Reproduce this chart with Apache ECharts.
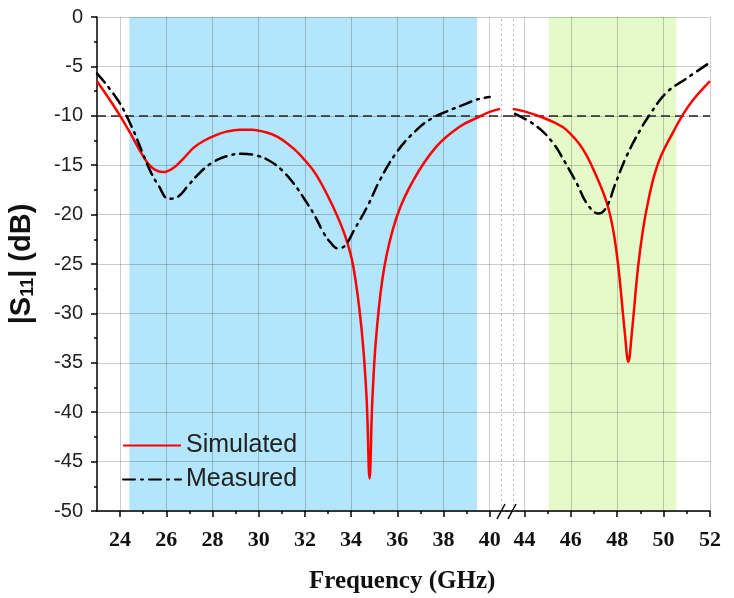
<!DOCTYPE html>
<html>
<head>
<meta charset="utf-8">
<script src="https://cdn.jsdelivr.net/npm/echarts@6.0.0/dist/echarts.min.js"></script>
<style>
html, body { margin: 0; padding: 0; background: #fff; }
#chart { width: 734px; height: 598px; }
</style>
</head>
<body>
<div id="chart"></div>
<script>
// simulated |S11|, lower band (GHz / dB)
var simLowFreq = [23, 23.5, 24, 24.5, 24.9, 25.2, 25.5, 25.85, 26.0, 26.35, 26.75, 27.2, 27.65, 28.1, 28.6, 29.2, 29.7, 30.2, 30.8, 31.5, 32.0, 32.5, 33.2, 33.75, 34.1, 34.45, 34.67, 34.8, 34.92, 35.1, 35.44, 35.98, 36.7, 37.7, 38.7, 39.5, 40.0, 40.45];
var simLowDb = [-6.5, -8.2, -10.0, -12.0, -13.7, -14.8, -15.45, -15.7, -15.65, -15.2, -14.3, -13.2, -12.5, -12.0, -11.6, -11.4, -11.4, -11.6, -12.1, -13.3, -14.5, -16.0, -19.1, -22.2, -25.3, -31.5, -38.5, -46.7, -38.8, -32, -25.3, -20.2, -16.5, -13.1, -11.1, -10.15, -9.6, -9.3];
// simulated |S11|, upper band
var simHighFreq = [43.5, 44, 44.7, 45.3, 45.8, 46.5, 47.1, 47.55, 47.83, 48.05, 48.33, 48.48, 48.63, 48.9, 49.12, 49.34, 49.6, 49.9, 50.4, 50.8, 51.27, 52];
var simHighDb = [-9.3, -9.55, -10.1, -10.7, -11.4, -13.3, -16.1, -18.8, -21.6, -25.3, -32, -34.9, -32, -25.3, -21.4, -18.6, -16.0, -14.0, -11.7, -10.0, -8.4, -6.5];
// measured |S11|, lower band
var measLowFreq = [23, 23.9, 24.5, 25, 25.35, 25.65, 26.1, 26.5, 26.9, 27.35, 27.95, 28.6, 29.25, 29.95, 30.5, 31.0, 31.5, 32.0, 32.4, 32.8, 33.1, 33.4, 33.6, 33.85, 34.1, 34.7, 35.25, 36, 36.85, 37.5, 38.15, 38.85, 39.45, 40];
var measLowDb = [-5.7, -8.4, -11.1, -13.9, -15.8, -17.0, -18.4, -18.2, -17.2, -16.0, -14.8, -14.1, -13.85, -14.05, -14.6, -15.5, -16.8, -18.5, -20.0, -21.8, -22.8, -23.4, -23.35, -22.8, -21.7, -19.2, -16.5, -13.6, -11.4, -10.25, -9.55, -8.9, -8.35, -8.1];
// measured |S11|, upper band
var measHighFreq = [43.6, 44.55, 45.25, 45.7, 46.25, 46.7, 47.2, 47.55, 47.9, 48.4, 49, 49.4, 50.1, 51, 52];
var measHighDb = [-9.8, -11.1, -12.8, -14.5, -16.8, -18.9, -19.9, -19.2, -17.0, -14.1, -11.4, -9.9, -7.7, -6.2, -4.6];

var lowTicks = [24, 26, 28, 30, 32, 34, 36, 38, 40];
var lowMinorTicks = [25, 27, 29, 31, 33, 35, 37, 39];
var highTicks = [44, 46, 48, 50, 52];
var highMinorTicks = [45, 47, 49, 51];
var lowBand = [24.4, 39.45];
var highBand = [45.05, 50.55];
var refLevel = -10;

function pairs(xs, ys) {
    var out = [];
    for (var i = 0; i < xs.length; i++) {
        out.push([xs[i], ys[i]]);
    }
    return out;
}

var myChart = echarts.init(document.getElementById('chart'));

var gridColor = 'rgba(0,0,0,0.2)';
var serifBold = {
    fontFamily: 'Liberation Serif',
    fontWeight: 'bold',
    fontSize: 22,
    color: '#111'
};

function mainX(grid, min, max, ticks) {
    return {
        type: 'value', gridIndex: grid, min: min, max: max, z: 2, position: 'bottom',
        axisLine: { show: true, onZero: false, lineStyle: { color: '#000', width: 1.5 } },
        axisTick: { show: true, length: 6, customValues: ticks, lineStyle: { color: '#000', width: 1.5 } },
        axisLabel: Object.assign({ margin: 18, customValues: ticks }, serifBold),
        splitLine: { show: true, lineStyle: { color: gridColor, width: 1 } }
    };
}

// extra axis that only draws the short odd-GHz ticks
function minorX(grid, min, max, ticks) {
    return {
        type: 'value', gridIndex: grid, min: min, max: max, z: 2, position: 'bottom',
        axisLine: { show: false, onZero: false },
        axisTick: { show: true, length: 3, customValues: ticks, lineStyle: { color: '#000', width: 1.5 } },
        axisLabel: { show: false },
        splitLine: { show: false }
    };
}

function lineSeries(name, xi, yi, xs, ys, style) {
    return {
        name: name, type: 'line', xAxisIndex: xi, yAxisIndex: yi, z: 4,
        data: pairs(xs, ys),
        smooth: 0.4, symbol: 'none',
        lineStyle: style,
        itemStyle: { color: style.color }
    };
}

var simStyle = { color: '#ff0000', width: 2.5 };
var measStyle = { color: '#000', width: 2.5, type: [12, 6, 2, 6], cap: 'round' };

var option = {
    animation: false,
    grid: [
        { left: 97, top: 17, width: 410, bottom: 87, outerBoundsMode: 'none' },
        { left: 507, top: 17, right: 24, bottom: 87, outerBoundsMode: 'none' }
    ],
    xAxis: [
        mainX(0, 23, 40.75, lowTicks),
        minorX(0, 23, 40.75, lowMinorTicks),
        mainX(1, 43.25, 52, highTicks),
        minorX(1, 43.25, 52, highMinorTicks)
    ],
    yAxis: [{
        type: 'value', gridIndex: 0, min: -50, max: 0, interval: 5, z: 2,
        name: '|S{s|11}| (dB)',
        nameLocation: 'middle',
        nameGap: 60,
        nameTextStyle: {
            fontFamily: 'Liberation Sans', fontWeight: 'bold', fontSize: 29, color: '#111',
            rich: { s: { fontFamily: 'Liberation Sans', fontWeight: 'bold', fontSize: 18, color: '#111', padding: [12, 0, 0, 0], verticalAlign: 'bottom' } }
        },
        axisLine: { show: true, onZero: false, lineStyle: { color: '#000', width: 1.5 } },
        axisTick: { show: true, length: 6, lineStyle: { color: '#000', width: 1.5 } },
        minorTick: { show: true, splitNumber: 2, length: 3, lineStyle: { color: '#000', width: 1.5 } },
        axisLabel: { margin: 14, fontFamily: 'Liberation Sans', fontSize: 20, color: '#222' },
        splitLine: { show: true, lineStyle: { color: gridColor, width: 1 } }
    }, {
        type: 'value', gridIndex: 1, min: -50, max: 0, interval: 5, z: 2,
        axisLine: { show: false },
        axisTick: { show: false },
        axisLabel: { show: false },
        splitLine: { show: true, lineStyle: { color: gridColor, width: 1 } }
    }],
    legend: {
        data: ['Simulated', 'Measured'],
        orient: 'vertical',
        left: 117,
        top: 428,
        itemWidth: 58,
        itemHeight: 14,
        itemGap: 9,
        itemTextGap: 7,
        itemStyle: { opacity: 0 },
        textStyle: { fontFamily: 'Liberation Sans', fontSize: 25, color: '#222' }
    },
    graphic: [
        { type: 'line', z: 10, shape: { x1: 497, y1: 519, x2: 505, y2: 504 }, style: { stroke: '#000', lineWidth: 1.5 } },
        { type: 'line', z: 10, shape: { x1: 508, y1: 519, x2: 516, y2: 504 }, style: { stroke: '#000', lineWidth: 1.5 } },
        { type: 'text', left: 309, top: 569, style: { text: 'Frequency (GHz)', font: 'bold 25px "Liberation Serif"', fill: '#111' } }
    ],
    series: [{
        name: 'bandLow', type: 'line', xAxisIndex: 0, yAxisIndex: 0, data: [], silent: true, z: 1,
        markArea: {
            silent: true, z: 1,
            itemStyle: { color: '#b3e5fb' },
            data: [[{ xAxis: lowBand[0] }, { xAxis: lowBand[1] }]]
        },
        markLine: {
            silent: true, z: 3, symbol: 'none', label: { show: false },
            data: [
                { yAxis: refLevel, lineStyle: { color: '#222', type: [9, 5], width: 1.5 } },
                { xAxis: 40.5, lineStyle: { color: '#bbb', type: [2, 3], width: 1 } }
            ]
        }
    }, {
        name: 'bandHigh', type: 'line', xAxisIndex: 2, yAxisIndex: 1, data: [], silent: true, z: 1,
        markArea: {
            silent: true, z: 1,
            itemStyle: { color: '#e4fac8' },
            data: [[{ xAxis: highBand[0] }, { xAxis: highBand[1] }]]
        },
        markLine: {
            silent: true, z: 3, symbol: 'none', label: { show: false },
            data: [
                { yAxis: refLevel, lineStyle: { color: '#222', type: [9, 5], width: 1.5 } },
                { xAxis: 43.5, lineStyle: { color: '#bbb', type: [2, 3], width: 1 } }
            ]
        }
    },
        lineSeries('Simulated', 0, 0, simLowFreq, simLowDb, simStyle),
        lineSeries('Simulated', 2, 1, simHighFreq, simHighDb, simStyle),
        lineSeries('Measured', 0, 0, measLowFreq, measLowDb, measStyle),
        lineSeries('Measured', 2, 1, measHighFreq, measHighDb, measStyle)
    ]
};

myChart.setOption(option);
</script>
</body>
</html>
